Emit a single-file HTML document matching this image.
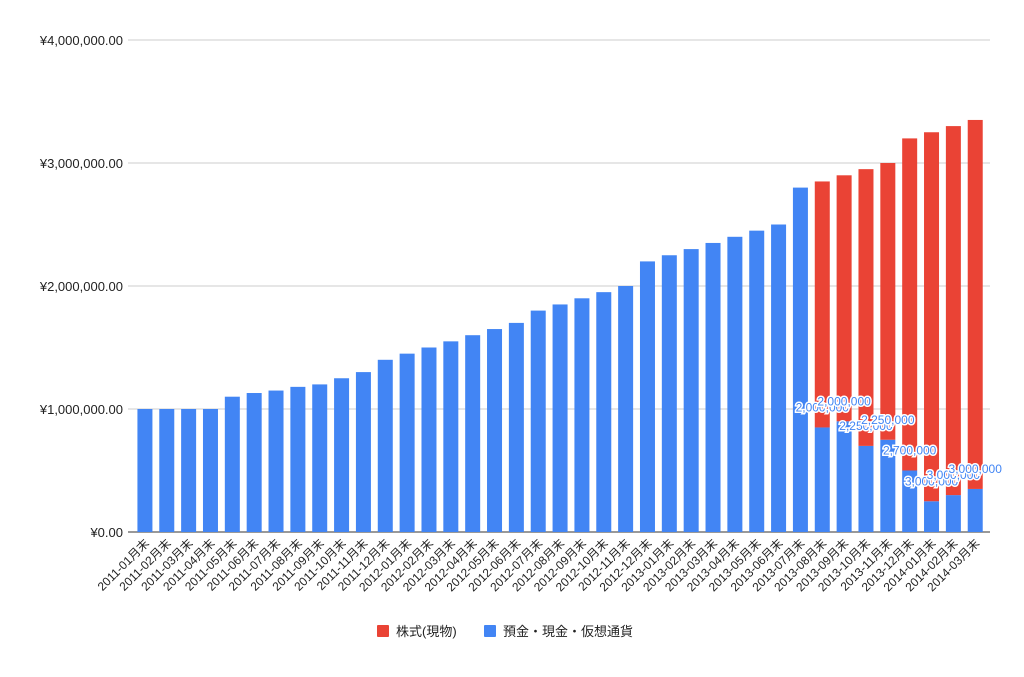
<!DOCTYPE html>
<html><head><meta charset="utf-8"><style>
body{margin:0;background:#fff;}
svg text{font-family:"Liberation Sans","Noto Sans CJK JP",sans-serif;}
</style></head><body>
<svg id="chart" width="1024" height="672" viewBox="0 0 1024 672" xmlns="http://www.w3.org/2000/svg">
<g id="grid"></g>
<g id="yaxis"></g>
<g id="bars"></g>
<g id="xaxis"></g>
<g id="labels"></g>
<g>
  <g>
    <rect x="377" y="625" width="12" height="12" rx="1" fill="#ea4335"/>
    <text x="396" y="636" font-size="13" fill="#222">株式(現物)</text>
  </g>
  <g>
    <rect x="484" y="625" width="12" height="12" rx="1" fill="#4285f4"/>
    <text x="503" y="636" font-size="13" fill="#222">預金・現金・仮想通貨</text>
  </g>
</g>
</svg>
<script>
const categories = ["2011-01月末","2011-02月末","2011-03月末","2011-04月末","2011-05月末","2011-06月末","2011-07月末","2011-08月末","2011-09月末","2011-10月末","2011-11月末","2011-12月末","2012-01月末","2012-02月末","2012-03月末","2012-04月末","2012-05月末","2012-06月末","2012-07月末","2012-08月末","2012-09月末","2012-10月末","2012-11月末","2012-12月末","2013-01月末","2013-02月末","2013-03月末","2013-04月末","2013-05月末","2013-06月末","2013-07月末","2013-08月末","2013-09月末","2013-10月末","2013-11月末","2013-12月末","2014-01月末","2014-02月末","2014-03月末"];
const cashValues = [1000000,1000000,1000000,1000000,1100000,1130000,1150000,1180000,1200000,1250000,1300000,1400000,1450000,1500000,1550000,1600000,1650000,1700000,1800000,1850000,1900000,1950000,2000000,2200000,2250000,2300000,2350000,2400000,2450000,2500000,2800000,850000,900000,700000,750000,500000,250000,300000,350000];
const stockValues = [0,0,0,0,0,0,0,0,0,0,0,0,0,0,0,0,0,0,0,0,0,0,0,0,0,0,0,0,0,0,0,2000000,2000000,2250000,2250000,2700000,3000000,3000000,3000000];
const yTicks = [0,1000000,2000000,3000000,4000000];
const yTickLabels = ["¥0.00","¥1,000,000.00","¥2,000,000.00","¥3,000,000.00","¥4,000,000.00"];

const NS="http://www.w3.org/2000/svg";
const plotL=134, plotR=990, gridL=128, baseY=532, topY=40, yMax=4000000;
const step=21.85, barW=15;
function y(v){return baseY-(v/yMax)*(baseY-topY);}
function xc(i){return plotL+step*(i+0.5);}
function mk(tag,attrs,parent){const e=document.createElementNS(NS,tag);for(const k in attrs)e.setAttribute(k,attrs[k]);parent.appendChild(e);return e;}
const grid=document.getElementById('grid'),yax=document.getElementById('yaxis'),bars=document.getElementById('bars'),xax=document.getElementById('xaxis'),lab=document.getElementById('labels');
yTicks.forEach((t,i)=>{
  const l=mk('line',{x1:gridL,x2:plotR,y1:y(t),y2:y(t),stroke:i===0?'#333':'#ccc','stroke-width':1},grid);
  
  
  const tx=mk('text',{x:123,y:y(t)+5,'text-anchor':'end','font-size':13,fill:'#222'},yax);
  tx.textContent=yTickLabels[i];
  
  
});
categories.forEach((c,i)=>{
  const cx=xc(i);
  const b=mk('rect',{x:cx-barW/2,y:y(cashValues[i]),width:barW,height:baseY-y(cashValues[i]),fill:'#4285f4'},bars);
  
  
  if(stockValues[i]>0){
    const top=y(cashValues[i]+stockValues[i]);
    const r=mk('rect',{x:cx-barW/2,y:top,width:barW,height:y(cashValues[i])-top,fill:'#ea4335'},bars);
    
    
    const t=mk('text',{x:cx,y:y(cashValues[i])-16,'text-anchor':'middle','font-size':12,fill:'#4285f4',stroke:'#fff','stroke-width':3,'paint-order':'stroke'},lab);
    t.textContent=stockValues[i].toLocaleString('en-US');
    
    
  }
  const xl=mk('text',{x:0,y:0,'text-anchor':'end','font-size':12,fill:'#222',transform:`translate(${cx+5},${baseY+12}) rotate(-45)`},xax);
  xl.textContent=c;
  
  
});
</script>
</body></html>
